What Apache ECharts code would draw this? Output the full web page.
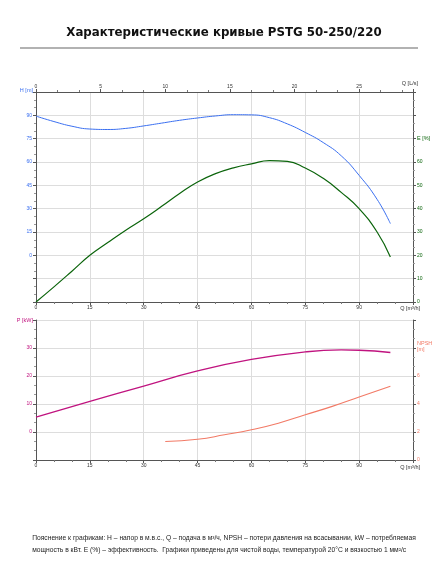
<!DOCTYPE html>
<html><head><meta charset="utf-8">
<script src="https://cdn.jsdelivr.net/npm/echarts@6/dist/echarts.min.js"></script>
<style>body{margin:0;background:#fff}#c{width:448px;height:567px}</style>
</head><body><div id="c"></div>
<script>
// Q в м3/ч
var qH = [0, 5, 10, 15, 20, 25, 30, 35, 40, 45, 50, 55, 60, 65, 70, 75, 80, 85, 90, 95, 98.7];
var valH = [89.5, 86, 83, 81.2, 80.9, 81.6, 83.2, 85, 86.8, 88.3, 89.6, 90.4, 90.3, 88.5, 84.5, 79, 72.5, 64, 51.4, 36, 20.4];
var qE = [0, 5, 10, 15, 20, 25, 30, 35, 40, 45, 50, 55, 60, 65, 70, 75, 80, 85, 90, 95, 98.7];
var valE = [0, 6.5, 13.2, 20, 25.5, 30.8, 35.7, 41, 46.5, 51.4, 55, 57.5, 59.2, 60.6, 60.3, 57.4, 53, 47, 40, 30, 19.3];
var qP = [0, 15, 30, 45, 60, 75, 85, 90, 98.7];
var valP = [5.3, 10.9, 16.4, 21.8, 25.9, 28.6, 29.3, 29.2, 28.4];
var qN = [36, 45, 52.5, 60, 67.5, 75, 82.5, 90, 98.7];
var valN = [1.32, 1.48, 1.8, 2.16, 2.63, 3.23, 3.83, 4.5, 5.27];

var cH = '#3a6ff0', cE = '#0b640b', cP = '#c0137f', cN = '#f27a66';
function pairs(xs, ys){ return xs.map(function(x,i){return [x, ys[i]];}); }

var font = 'Liberation Sans';
function xAx(grid, pos, max, interval, labelMax){
    return {
        type:'value', gridIndex:grid, position:pos, min:0, max:max, interval:interval,
        axisLine:{onZero:false, lineStyle:{color:'#555'}}, axisTick:{length:3, lineStyle:{color:'#555'}},
        minorTick:{show:true, splitNumber:3, length:2, lineStyle:{color:'#777'}},
        axisLabel:{fontSize:5, color:'#333', margin:3, fontFamily:font,
            formatter:function(v){ return v <= labelMax ? v : ''; }},
        splitLine:{show:pos=='bottom', lineStyle:{color:'#ddd'}}
    };
}
function yAx(grid, pos, min, max, interval, color, lo, hi){
    return {
        type:'value', gridIndex:grid, position:pos, min:min, max:max, interval:interval,
        axisLine:{show:true, onZero:false, lineStyle:{color:'#555'}}, axisTick:{length:3, lineStyle:{color:'#555'}},
        minorTick:{show:true, splitNumber:3, length:2, lineStyle:{color:'#999'}},
        axisLabel:{fontSize:5, color:color, margin:4, fontFamily:font,
            formatter:function(v){ return (v>=lo && v<=hi) ? v : ''; }},
        splitLine:{show:pos=='left', lineStyle:{color:'#ddd'}}
    };
}
function label(txt, x, y, color, align){
    return {type:'text', x:x, y:y, z:100, style:{text:txt, fontSize:5.5, fill:color, fontFamily:font, align:align||'left', verticalAlign:'middle'}};
}

var option = {
    animation:false,
    textStyle:{fontFamily:font},
    title:{text:'Характеристические кривые PSTG 50-250/220', left:'center', top:22,
        textStyle:{fontSize:11.8, fontWeight:'bold', color:'#111', fontFamily:'DejaVu Sans'}},
    graphic:[
        {type:'line', shape:{x1:20,y1:48,x2:418,y2:48}, style:{stroke:'#222', lineWidth:0.7}},
        label('Q [L/s]', 418, 83, '#333', 'right'),
        label('H [m]', 33, 90, cH, 'right'),
        label('E [%]', 417, 138, cE, 'left'),
        label('Q [m³/h]', 420, 308, '#333', 'right'),
        label('P [kW]', 33, 320, cP, 'right'),
        label('NPSH\n[m]', 417, 346, cN, 'left'),
        label('Q [m³/h]', 420, 467, '#333', 'right'),
        {type:'text', left:'center', top:532, style:{
            text:'Пояснение к графикам: H – напор в м.в.с., Q – подача в м³/ч, NPSH – потери давления на всасывании, kW – потребляемая\nмощность в кВт. E (%) – эффективность.  Графики приведены для чистой воды, температурой 20°C и вязкостью 1 мм²/с',
            fontSize:6.7, lineHeight:12, fill:'#222', fontFamily:font, align:'left'}}
    ],
    grid:[
        {left:36, right:35, top:92, height:210},
        {left:36, right:35, top:320, height:140}
    ],
    xAxis:[
        xAx(0, 'bottom', 105, 15, 90),
        xAx(0, 'top', 105/3.6, 5, 25),
        xAx(1, 'bottom', 105, 15, 90)
    ],
    yAxis:[
        yAx(0, 'left', -30, 105, 15, cH, 0, 90),
        yAx(0, 'right', 0, 90, 10, cE, 0, 60),
        yAx(1, 'left', -10, 40, 10, cP, 0, 30),
        yAx(1, 'right', 0, 10, 2, cN, 0, 6)
    ],
    series:[
        {type:'line', xAxisIndex:0, yAxisIndex:0, smooth:true, symbol:'none', data:pairs(qH, valH), lineStyle:{color:cH, width:1}},
        {type:'line', xAxisIndex:0, yAxisIndex:1, smooth:true, symbol:'none', data:pairs(qE, valE), lineStyle:{color:cE, width:1.2}},
        {type:'line', xAxisIndex:2, yAxisIndex:2, smooth:true, symbol:'none', data:pairs(qP, valP), lineStyle:{color:cP, width:1.3}},
        {type:'line', xAxisIndex:2, yAxisIndex:3, smooth:true, symbol:'none', data:pairs(qN, valN), lineStyle:{color:cN, width:1.1}}
    ]
};
var myChart = echarts.init(document.getElementById('c'));
myChart.setOption(option);
</script></body></html>
